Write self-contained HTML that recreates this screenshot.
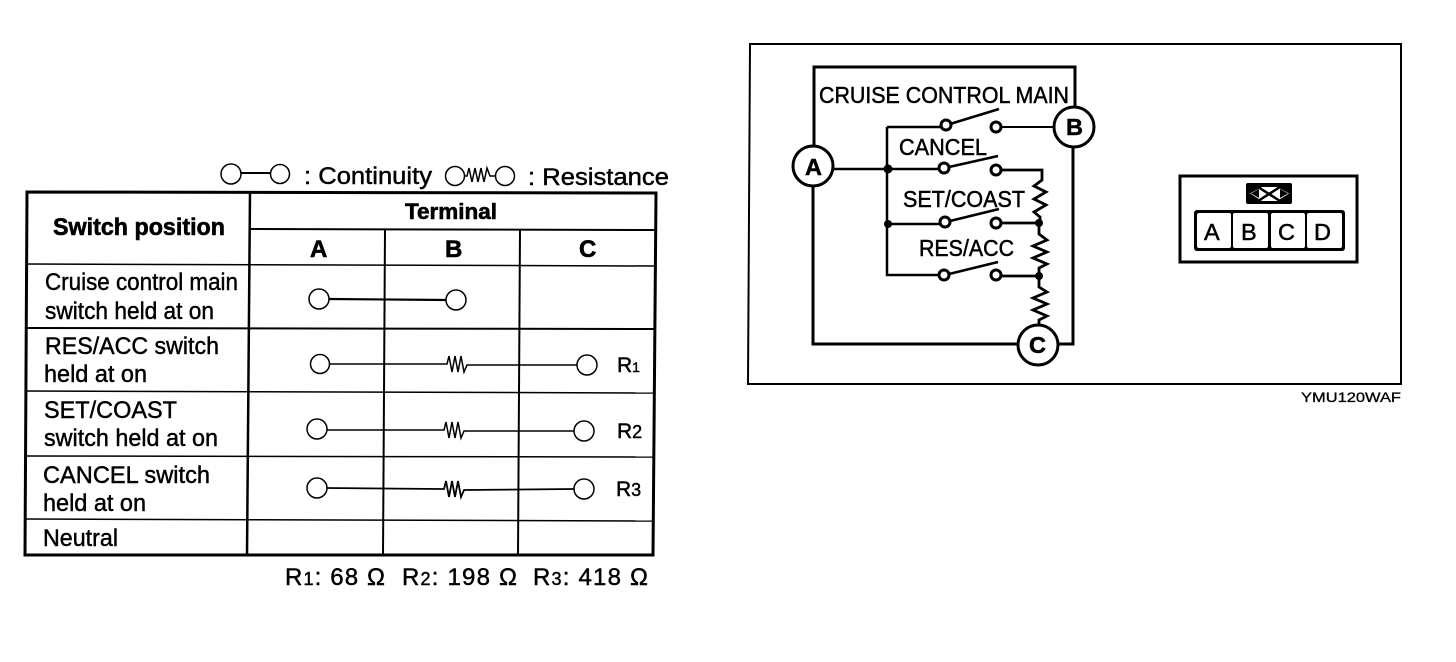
<!DOCTYPE html>
<html><head><meta charset="utf-8"><style>
html,body{margin:0;padding:0;background:#fff;width:1456px;height:662px;overflow:hidden}
svg{display:block}
text{font-family:"Liberation Sans",sans-serif;fill:#000;stroke:#000;stroke-width:.45;font-size:24px}
.b{font-weight:bold;stroke-width:.6}
.d{font-size:23.5px;stroke-width:.5}
.w{fill:#fff;stroke:#000}
.l{fill:none;stroke:#000;stroke-linejoin:miter}
</style></head><body>
<svg width="1456" height="662" viewBox="0 0 1456 662" xmlns="http://www.w3.org/2000/svg">
<!-- Table -->
<g class="l">
<path d="M27 192L656 193L653 555L25 555Z" stroke-width="3"/>
<path d="M250 192L247 555" stroke-width="2.500"/>
<path d="M385 230L383 555" stroke-width="2"/>
<path d="M520 230L518 555" stroke-width="2"/>
<path d="M250 229L656 230" stroke-width="2"/>
<path d="M27 264L655 266" stroke-width="1.500"/>
<path d="M26 328L655 329" stroke-width="2"/>
<path d="M26 391L654 393" stroke-width="1.500"/>
<path d="M25 456L654 457" stroke-width="1.500"/>
<path d="M25 519L654 521" stroke-width="1.500"/>
</g>
<!-- Legend -->
<g class="l" stroke-width="1.500">
<path d="M240 173H270" stroke-width="2"/>
<circle cx="231" cy="174" r="10" class="w"/><circle cx="280" cy="174" r="9.500" class="w"/>
<circle cx="455" cy="176" r="9.500" class="w"/><circle cx="505" cy="176" r="9.500" class="w"/>
<path d="M464 176L467 176L469 168L472 182L475 168L478 182L481 168L484 182L487 168L490 176H496"/>
</g>
<text x="304" y="184" textLength="128" lengthAdjust="spacingAndGlyphs">: Continuity</text>
<text x="528" y="185" textLength="141" lengthAdjust="spacingAndGlyphs">: Resistance</text>
<!-- Table headers -->
<text class="b" x="53" y="235" textLength="172" lengthAdjust="spacingAndGlyphs">Switch position</text>
<text class="b" x="405" y="219" textLength="92" lengthAdjust="spacingAndGlyphs" style="font-size:22px">Terminal</text>
<text class="b" x="310" y="257">A</text><text class="b" x="445" y="257">B</text><text class="b" x="579" y="257">C</text>
<!-- Row labels -->
<text x="45" y="290" textLength="193" lengthAdjust="spacingAndGlyphs">Cruise control main</text>
<text x="45" y="319" textLength="169" lengthAdjust="spacingAndGlyphs">switch held at on</text>
<text x="45" y="354" textLength="174" lengthAdjust="spacingAndGlyphs">RES/ACC switch</text>
<text x="44" y="382" textLength="103" lengthAdjust="spacingAndGlyphs">held at on</text>
<text x="44" y="418" textLength="133" lengthAdjust="spacingAndGlyphs">SET/COAST</text>
<text x="44" y="446" textLength="174" lengthAdjust="spacingAndGlyphs">switch held at on</text>
<text x="43" y="483" textLength="167" lengthAdjust="spacingAndGlyphs">CANCEL switch</text>
<text x="43" y="511" textLength="103" lengthAdjust="spacingAndGlyphs">held at on</text>
<text x="43" y="546" textLength="75" lengthAdjust="spacingAndGlyphs">Neutral</text>
<!-- Table symbols -->
<g class="l" stroke-width="1.500">
<path d="M328 299L446 300" stroke-width="2.200"/>
<circle cx="319" cy="299" r="10" class="w"/><circle cx="456" cy="300" r="10" class="w"/>
<path d="M330 364L445 364L447 364L449 356L452 372L455 356L458 372L461 356L464 372L467 365L577 365"/>
<circle cx="320" cy="364" r="9.500" class="w"/><circle cx="587" cy="365" r="10" class="w"/>
<path d="M327 430L442 430L444 430L446 422L449 438L452 422L455 438L458 422L461 438L464 431L574 431"/>
<circle cx="317" cy="429" r="10" class="w"/><circle cx="584" cy="431" r="10" class="w"/>
<path d="M327 488L442 489L444 489L446 481L449 497L452 481L455 497L458 481L461 497L464 490L574 489" stroke-width="1.800"/>
<circle cx="317" cy="488" r="10" class="w"/><circle cx="584" cy="489" r="10" class="w"/>
</g>
<text x="617" y="372" style="font-size:21px">R<tspan style="font-size:14px">1</tspan></text>
<text x="617" y="438" style="font-size:21px">R<tspan style="font-size:18px">2</tspan></text>
<text x="616" y="496" style="font-size:21px">R<tspan style="font-size:18px">3</tspan></text>
<text x="285" y="585" textLength="100" lengthAdjust="spacing">R<tspan style="font-size:18px">1</tspan>: 68 Ω</text>
<text x="402" y="585" textLength="115" lengthAdjust="spacing">R<tspan style="font-size:18px">2</tspan>: 198 Ω</text>
<text x="533" y="585" textLength="115" lengthAdjust="spacing">R<tspan style="font-size:18px">3</tspan>: 418 Ω</text>
<!-- Diagram frame -->
<path class="l" d="M750 44H1401V384L748 384Z" stroke-width="2"/>
<g class="l" stroke-width="2.500">
<path d="M814 146V67H1075V107" stroke-width="3"/>
<path d="M813 186V344H1018" stroke-width="3"/>
<path d="M1058 344H1073V147" stroke-width="3"/>
<path d="M833 169H940"/>
<path d="M887 127V275H939"/>
<path d="M887 127H941"/>
<path d="M887 224H940"/>
<path d="M950 124L999 109"/><path d="M949 167L998 156"/><path d="M950 221L999 209"/><path d="M949 274L998 262"/>
<path d="M1001 127H1055" stroke-width="2"/>
<path d="M1001 170H1042V180L1034 186L1046 192L1034 199L1046 205L1034 212L1040 217V224" stroke-width="2.800"/>
<path d="M1001 223H1039V234L1047 240L1033 246L1047 252L1033 258L1047 264L1039 268V276" stroke-width="2.800"/>
<path d="M1001 276H1039V287L1047 292L1033 298L1047 304L1033 310L1047 316L1039 320V326" stroke-width="2.800"/>
<circle cx="946" cy="125" r="5" class="w" stroke-width="3"/><circle cx="996" cy="127" r="5" class="w" stroke-width="3"/>
<circle cx="944" cy="168" r="5" class="w" stroke-width="3"/><circle cx="996" cy="170" r="5" class="w" stroke-width="3"/>
<circle cx="945" cy="222" r="5" class="w" stroke-width="3"/><circle cx="996" cy="223" r="5" class="w" stroke-width="3"/>
<circle cx="944" cy="275" r="5" class="w" stroke-width="3"/><circle cx="996" cy="275" r="5" class="w" stroke-width="3"/>
<circle cx="813" cy="166" r="20" class="w" stroke-width="3"/><circle cx="1074" cy="127" r="20" class="w" stroke-width="3"/><circle cx="1038" cy="345" r="20" class="w" stroke-width="3"/>
</g>
<circle cx="888" cy="169" r="4.500"/><circle cx="888" cy="224" r="4"/><circle cx="1039" cy="223" r="4"/><circle cx="1039" cy="276" r="4"/>
<text class="d" x="819" y="103" textLength="250" lengthAdjust="spacingAndGlyphs">CRUISE CONTROL MAIN</text>
<text class="d" x="899" y="155" textLength="88" lengthAdjust="spacingAndGlyphs">CANCEL</text>
<text class="d" x="903" y="207" textLength="122" lengthAdjust="spacingAndGlyphs">SET/COAST</text>
<text class="d b" x="919" y="256" textLength="95" lengthAdjust="spacingAndGlyphs" style="font-weight:normal">RES/ACC</text>
<text class="d b" x="805" y="175">A</text><text class="d b" x="1066" y="135">B</text><text class="d b" x="1029" y="353">C</text>
<text x="1301" y="402" textLength="100" lengthAdjust="spacingAndGlyphs" style="font-size:14px;stroke-width:.3">YMU120WAF</text>
<!-- Connector -->
<path class="l" d="M1180 176H1357V262H1180Z" stroke-width="3"/>
<rect x="1246" y="183" width="46" height="21" rx="2"/>
<path d="M1250 193.500L1262 187H1277L1289 193.500L1277 201H1262Z" fill="#fff"/>
<path d="M1258 187L1280 201M1280 187L1258 201" stroke="#000" stroke-width="2.500"/>
<path d="M1251 193.500L1259 189V198ZM1288 193.500L1280 189V198Z"/>
<rect x="1194" y="210" width="151" height="41" rx="3"/>
<rect x="1197" y="213" width="34" height="35" rx="2" fill="#fff"/><rect x="1233" y="213" width="35" height="35" rx="2" fill="#fff"/>
<rect x="1271" y="213" width="34" height="35" rx="2" fill="#fff"/><rect x="1307" y="213" width="35" height="35" rx="2" fill="#fff"/>
<text class="d" x="1204" y="240">A</text><text class="d" x="1241" y="240">B</text><text class="d" x="1278" y="240">C</text><text class="d" x="1314" y="240">D</text>
</svg>
</body></html>
